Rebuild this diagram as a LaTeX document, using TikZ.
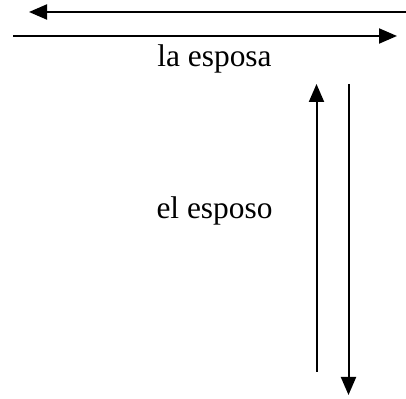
\documentclass[tikz,border=0pt]{standalone}
\usepackage{fontspec}
\setmainfont{Liberation Serif}
\usetikzlibrary{arrows.meta}
\tikzset{
  flow/.style={-{Triangle[length=9pt,width=7.5pt]},line width=1pt},
  word/.style={anchor=base,inner sep=0pt,font=\fontsize{15.7}{19}\selectfont}
}
\begin{document}
\begin{tikzpicture}[x=0.5pt,y=-0.5pt]
\useasboundingbox (0,0) rectangle (406,399);
% horizontal pair
\coordinate (wifeR) at (406,12);
\coordinate (wifeL) at (29,12);
\coordinate (wifeA) at (13,36);
\coordinate (wifeB) at (397,36);
\draw[flow] (wifeR) -- (wifeL);
\draw[flow] (wifeA) -- (wifeB);
\node[word] (wife) at (214.5,67) {la esposa};
% vertical pair
\coordinate (husbA) at (316.5,372);
\coordinate (husbB) at (316.5,84);
\coordinate (husbC) at (348.5,84);
\coordinate (husbD) at (348.5,395);
\draw[flow] (husbA) -- (husbB);
\draw[flow] (husbC) -- (husbD);
\node[word] (husb) at (214.5,219) {el esposo};
\end{tikzpicture}
\end{document}
